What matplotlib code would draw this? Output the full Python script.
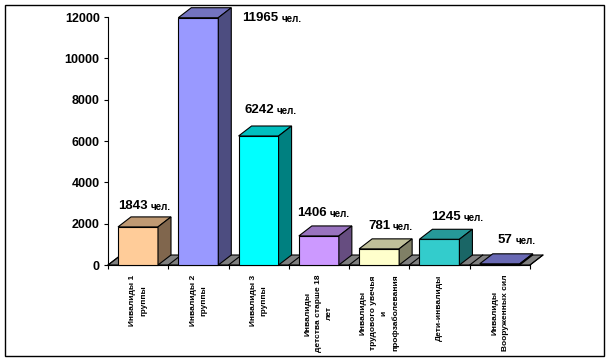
import matplotlib
matplotlib.use("Agg")
import matplotlib.pyplot as plt
import numpy as np
from matplotlib.patches import Polygon, Rectangle
from matplotlib.colors import to_rgb

plt.rcParams["font.family"] = ["Liberation Sans", "DejaVu Sans"]

# data
categories = [
    "Инвалиды 1\nгруппы",
    "Инвалиды 2\nгруппы",
    "Инвалиды 3\nгруппы",
    "Инвалиды\nдетства старше 18\nлет",
    "Инвалиды\nтрудового увечья\nи\nпрофзаболевания",
    "Дети-инвалиды",
    "Инвалиды\nВооруженных сил",
]
values = [1843, 11965, 6242, 1406, 781, 1245, 57]
face_colors = ["#FFCC99", "#9999FF", "#00FFFF", "#CC99FF", "#FFFFCC", "#33CCCC", "#8C8CF0"]
yticks = [0, 2000, 4000, 6000, 8000, 10000, 12000]

# label placement (pixels): shift from bar front-left, gap above bar top
label_dx = [0, 64, 6, -2, 9, 12, 18]
label_dy = [5, -16, 10, 7, 7, 6, 8]

W, H = 609, 361
fig = plt.figure(figsize=(W / 100, H / 100), dpi=100)
ax = fig.add_axes([108 / W, (H - 265) / H, 422 / W, 248 / H])
ax.set_xlim(0, 7)
ax.set_ylim(0, 12000)

px_x = 7 / 422          # data units per pixel, x
px_y = 12000 / 248      # data units per pixel, y
dx = 13 * px_x          # depth offset
dy = 10 * px_y
bar_off = 10 * px_x
bar_w = 40 * px_x

# gray floor
floor = Polygon([(0, 0), (7, 0), (7 + dx, dy), (dx, dy)], closed=True,
                facecolor="#808080", edgecolor="black", lw=0.8, clip_on=False, zorder=1)
ax.add_patch(floor)
for i in range(8):
    ax.plot([i, i + dx], [0, dy], color="black", lw=0.8, clip_on=False, zorder=1.5)


def shade(c, f):
    r, g, b = to_rgb(c)
    return (r * f, g * f, b * f)


for i, (v, c) in enumerate(zip(values, face_colors)):
    x0 = i + bar_off
    x1 = x0 + bar_w
    ax.add_patch(Rectangle((x0, 0), bar_w, v, facecolor=c, edgecolor="black",
                           lw=0.8, clip_on=False, zorder=3))
    ax.add_patch(Polygon([(x0, v), (x1, v), (x1 + dx, v + dy), (x0 + dx, v + dy)],
                         closed=True, facecolor=shade(c, 0.75), edgecolor="black",
                         lw=0.8, clip_on=False, zorder=3))
    ax.add_patch(Polygon([(x1, 0), (x1 + dx, dy), (x1 + dx, v + dy), (x1, v)],
                         closed=True, facecolor=shade(c, 0.5), edgecolor="black",
                         lw=0.8, clip_on=False, zorder=3))

    lx = x0 + label_dx[i] * px_x
    ly = v + dy + label_dy[i] * px_y
    num = ax.text(lx, ly, str(v), fontsize=9.5, fontweight="bold",
                  ha="left", va="bottom", zorder=5)
    ax.annotate("чел.", xy=(1, 0), xycoords=num, xytext=(2, 0),
                textcoords="offset points", fontsize=7, fontweight="bold",
                ha="left", va="bottom", zorder=5)

for s in ["top", "right"]:
    ax.spines[s].set_visible(False)
ax.spines["left"].set_linewidth(0.8)
ax.spines["bottom"].set_linewidth(0.8)
ax.set_yticks(yticks)
ax.set_yticklabels([str(t) for t in yticks], fontsize=9, fontweight="bold")
ax.tick_params(axis="y", direction="out", length=3, width=0.8, pad=3)

ax.set_xticks(np.arange(8))
ax.set_xticklabels([])
ax.tick_params(axis="x", which="major", direction="out", length=3, width=0.8)
ax.set_xticks(np.arange(7) + 0.5, minor=True)
ax.set_xticklabels(categories, minor=True, rotation=90, fontsize=6,
                   fontweight="bold", linespacing=1.7, multialignment="center")
ax.tick_params(axis="x", which="minor", length=0, pad=7)
ax.patch.set_visible(False)

# outer frame
fig.add_artist(Rectangle((5 / W, 5 / H), 599 / W, 351 / H, transform=fig.transFigure,
                         fill=False, edgecolor="black", lw=1))

fig.savefig("out.png", dpi=100)
